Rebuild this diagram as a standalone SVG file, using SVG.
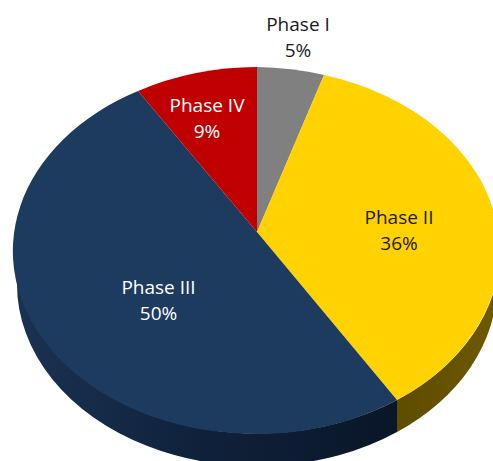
<svg xmlns="http://www.w3.org/2000/svg" width="493" height="461" viewBox="0 0 493 461">
  <style>
    .lbl { font-family: "Open Sans", "Noto Sans", "Liberation Sans", sans-serif; font-size: 19px; text-anchor: middle; }
    .dark { fill: #1a1a1a; }
    .light { fill: #ffffff; }
  </style>
  <defs>
    <linearGradient id="blueSide" x1="0" y1="0" x2="1" y2="0">
      <stop offset="0" stop-color="#1a3253"/>
      <stop offset="0.5" stop-color="#0f213a"/>
      <stop offset="1" stop-color="#0a1628"/>
    </linearGradient>
    <linearGradient id="yellowSide" x1="0" y1="0" x2="1" y2="0">
      <stop offset="0" stop-color="#5e4c00"/>
      <stop offset="1" stop-color="#6e5a00"/>
    </linearGradient>
  </defs>
  <rect width="493" height="461" fill="#ffffff"/>

  <g id="sides">
    <path d="M 14 250 A 243 183 0 0 0 397 400 L 397 432 A 240 182 0 0 1 17 284 Z" fill="url(#blueSide)"/>
    <path d="M 397 400 A 243 183 0 0 0 500 250 L 497 284 A 240 182 0 0 1 397 432 Z" fill="url(#yellowSide)"/>
  </g>

  <g id="phase1">
    <path d="M 257 232 L 257 67 A 243 183 0 0 1 324 75 Z" fill="#808080"/>
    <text class="lbl dark" x="298" y="31">Phase I</text>
    <text class="lbl dark" x="298" y="57">5%</text>
  </g>

  <g id="phase2">
    <path d="M 257 232 L 324 75 A 243 183 0 0 1 397 400 Z" fill="#ffd200"/>
    <text class="lbl dark" x="399" y="224">Phase II</text>
    <text class="lbl dark" x="399" y="250">36%</text>
  </g>

  <g id="phase3">
    <path d="M 257 232 L 397 400 A 243 183 0 1 1 138 91 Z" fill="#1d3a5f"/>
    <text class="lbl light" x="158.5" y="294">Phase III</text>
    <text class="lbl light" x="158.5" y="320">50%</text>
  </g>

  <g id="phase4">
    <path d="M 257 232 L 138 91 A 243 183 0 0 1 257 67 Z" fill="#c00000"/>
    <text class="lbl light" x="207" y="112">Phase IV</text>
    <text class="lbl light" x="207" y="138">9%</text>
  </g>
</svg>
